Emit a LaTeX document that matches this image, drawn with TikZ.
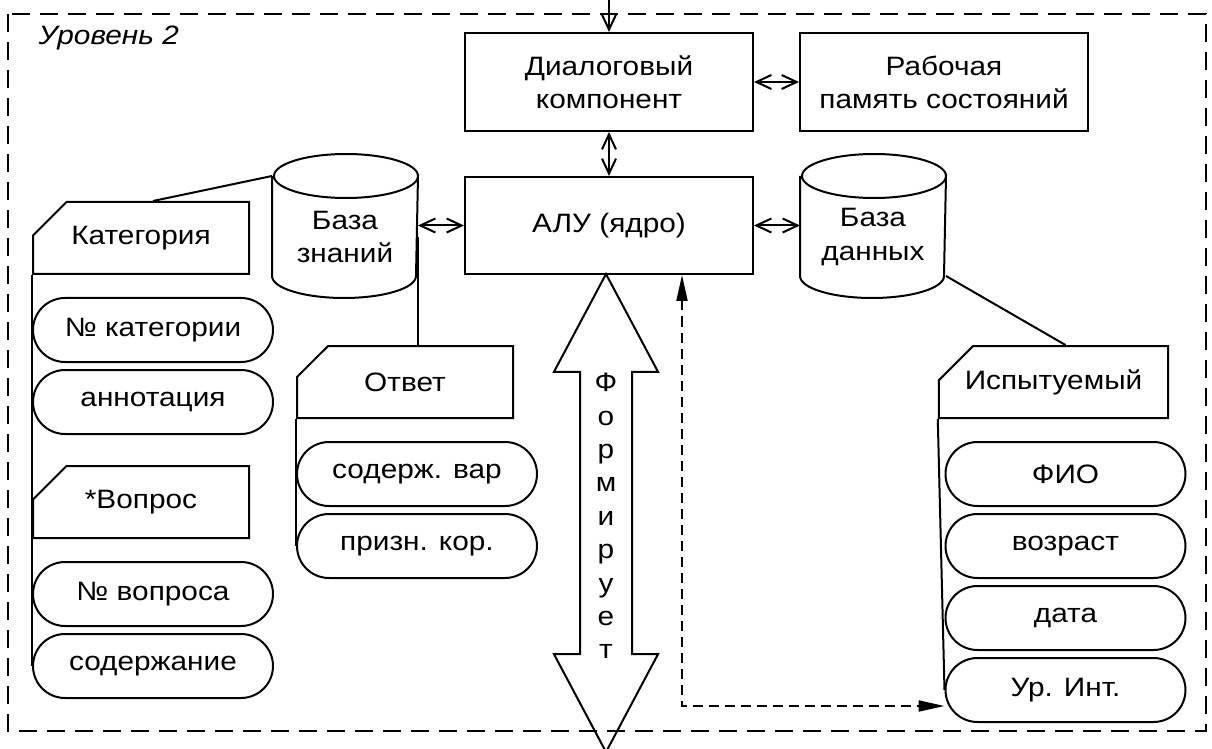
\documentclass[tikz,border=0pt]{standalone}
\usepackage{fontspec}
\setmainfont{Liberation Sans}[FakeStretch=1.12]
\usetikzlibrary{arrows.meta,shapes.misc,shapes.arrows}

\newcommand{\diafont}{\fontsize{13.3}{16.6}\selectfont}
% outline of a store: top ellipse on the node's north side, bulge below its south side
\newcommand{\drawstore}[1]{%
  \draw (#1.north west) -- ([yshift=11pt]#1.south west)
    arc[start angle=180, end angle=360, x radius=36pt, y radius=11pt]
    -- (#1.north east)
    arc[start angle=0, end angle=360, x radius=36pt, y radius=11pt];}

\tikzset{
  block/.style={draw, rectangle, minimum width=144pt, minimum height=49pt, align=center},
  store/.style={rectangle, minimum width=72pt, minimum height=60pt, align=center},
  entity/.style={draw, chamfered rectangle, chamfered rectangle corners=north west,
    chamfered rectangle xsep=21pt, chamfered rectangle ysep=7.5pt,
    minimum width=108pt, minimum height=36pt},
  attr/.style={draw, rectangle, rounded corners=16pt, minimum width=120pt, minimum height=32pt},
  link/.style={{Straight Barb[length=7.5pt,width=7pt]}-{Straight Barb[length=7.5pt,width=7pt]}},
  flow/.style={-{Straight Barb[length=7.5pt,width=7pt]}},
  dashflow/.style={dash pattern=on 5pt off 3pt,
    {Triangle[length=13pt,width=5.5pt]}-{Triangle[length=13pt,width=5.5pt]}},
  frame/.style={dash pattern=on 9pt off 5pt}
}

\begin{document}
\begin{tikzpicture}[x=0.5pt, y=-0.5pt, line width=1pt, every node/.style={font=\diafont}]

      \useasboundingbox (0,0) rectangle (1212,749);
      \draw[frame] (8,14) rectangle (1206,731);
      \node[anchor=base west] (lvl) at (31,45) {\itshape Уровень 2};

      \begin{scope}
        \node[block] (dlg) at (609,82) {Диалоговый\\компонент};
        \node[block] (mem) at (944,82) {Рабочая\\память состояний};
        \node[block, minimum height=48.5pt] (alu) at (609,225.5) {АЛУ (ядро)};
        \node[store] (kb) at (345,237) {База\\знаний};
        \node[store] (db) at (873,237) {База\\данных};
      \end{scope}
      \drawstore{kb}
      \drawstore{db}

      \begin{scope}
        \node[entity] (cat) at (141,238) {Категория};
        \node[attr]   (c1)  at (153,330) {№ категории};
        \node[attr]   (c2)  at (153,402) {аннотация};
        \node[entity] (qst) at (141,502) {*Вопрос};
        \node[attr]   (q1)  at (153,594) {№ вопроса};
        \node[attr]   (q2)  at (153,666) {содержание};
        \node[entity] (ans) at (405,382) {Ответ};
        \node[attr]   (a1)  at (417,474) {содерж. вар};
        \node[attr]   (a2)  at (417,546) {призн. кор.};
        \node[entity] (subj) at (1053.5,382) {Испытуемый};
        \node[attr]   (s1)  at (1065.5,474) {ФИО};
        \node[attr]   (s2)  at (1065.5,546) {возраст};
        \node[attr]   (s3)  at (1065.5,618) {дата};
        \node[attr]   (s4)  at (1065.5,690) {Ур. Инт.};
      \end{scope}

      \node[draw, double arrow, shape border rotate=90, minimum height=239pt,
        minimum width=51pt, double arrow head extend=13pt, double arrow tip angle=56,
        inner sep=12.5pt] (form) at (606,513) {};
      \node[align=center, font=\fontsize{13.3}{16.7}\selectfont] (formtxt) at (606,516)
        {Ф\\о\\р\\м\\и\\р\\у\\е\\т};

      \coordinate (entry) at (609,0);
      \coordinate (bend) at (682,706);

      \draw[flow] (entry) -- (dlg.north);
      \draw[link] (dlg.east) -- (mem.west);
      \draw[link] (dlg.south) -- (alu.north);
      \draw[link] (kb.east |- alu.west) -- (alu.west);
      \draw[link] (alu.east) -- (db.west |- alu.east);

      \draw (kb.north west) -- (cat.north -| c1.north);
      \draw (kb.east) -- (kb.east |- ans.north);
      \draw ([yshift=11pt]db.south east) -- (subj.north -| s1.north);

      \draw (cat.south west) -- (q2.west);
      \draw (ans.south west) -- (a2.west);
      \draw (subj.south west) -- (s4.west);

      \draw[dashflow] (alu.south -| bend) -- (bend) -- ([yshift=-8pt]s4.west);

    \end{tikzpicture}
\end{document}
